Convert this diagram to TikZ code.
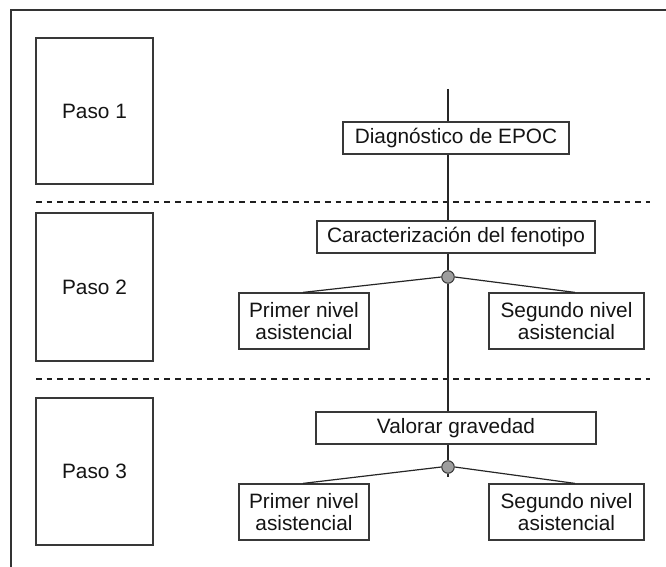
\documentclass[tikz,border=0pt]{standalone}
\usepackage{fontspec}
\setmainfont{Liberation Sans}
\begin{document}
\begin{tikzpicture}[x=1pt,y=-1pt,
  box/.style={draw=black!78,line width=1.2pt,fill=white,inner sep=0pt,align=center,
    font=\fontsize{20.8}{22.5}\selectfont,text=black!92},
  conn/.style={draw=black!85,line width=1.2pt},
  sep/.style={draw=black!88,line width=2pt,dash pattern=on 5.7pt off 5pt},
  dot/.style={circle,draw=black!80,line width=1pt,fill=black!38,minimum size=12.5pt,inner sep=0pt}]
\useasboundingbox (0,0) rectangle (666,567);
\draw[black!80,line width=1.6pt] (11,567) -- (11,10) -- (666,10);
% step boxes
\node[box,minimum width=117pt,minimum height=146pt] (p1) at (94.5,111) {Paso 1};
\node[box,minimum width=117pt,minimum height=148pt] (p2) at (94.5,287) {Paso 2};
\node[box,minimum width=117pt,minimum height=147pt] (p3) at (94.5,471.5) {Paso 3};
% separators
\coordinate (s1a) at (36,202); \coordinate (s1b) at (650,202);
\coordinate (s2a) at (36,379); \coordinate (s2b) at (650,379);
\draw[sep] (s1a) -- (s1b);
\draw[sep] (s2a) -- (s2b);
% main nodes
\node[box,minimum width=226pt,minimum height=32pt] (diag) at (456,138) {Diagnóstico de EPOC};
\node[box,minimum width=278pt,minimum height=32pt] (car) at (456,237) {Caracterización del fenotipo};
\node[box,minimum width=280pt,minimum height=32pt] (val) at (456,428) {Valorar gravedad};
\node[box,minimum width=130pt,minimum height=56pt] (pr1) at (304,321) {Primer nivel\\asistencial};
\node[box,minimum width=155pt,minimum height=56pt] (sg1) at (566.5,321) {Segundo nivel\\asistencial};
\node[box,minimum width=130pt,minimum height=56pt] (pr2) at (304,512) {Primer nivel\\asistencial};
\node[box,minimum width=155pt,minimum height=56pt] (sg2) at (566.5,512) {Segundo nivel\\asistencial};
\coordinate (top) at (448,89);
\coordinate (bot) at (448,477);
\node[dot] (c1) at (448,277) {};
\node[dot] (c2) at (448,467) {};
% connectors
\draw[conn] (top) -- (top |- diag.north);
\draw[conn] (top |- diag.south) -- (top |- car.north);
\draw[conn] (top |- car.south) -- (c1.north);
\draw[conn] (c1.south) -- (top |- val.north);
\draw[conn] (top |- val.south) -- (c2.north);
\draw[conn] (c2.south) -- (bot);
\draw[conn] (c1.west) -- ([xshift=-1pt]pr1.north);
\draw[conn] (c1.east) -- ([xshift=8.5pt]sg1.north);
\draw[conn] (c2.west) -- ([xshift=-1pt]pr2.north);
\draw[conn] (c2.east) -- ([xshift=8.5pt]sg2.north);
\end{tikzpicture}
\end{document}
